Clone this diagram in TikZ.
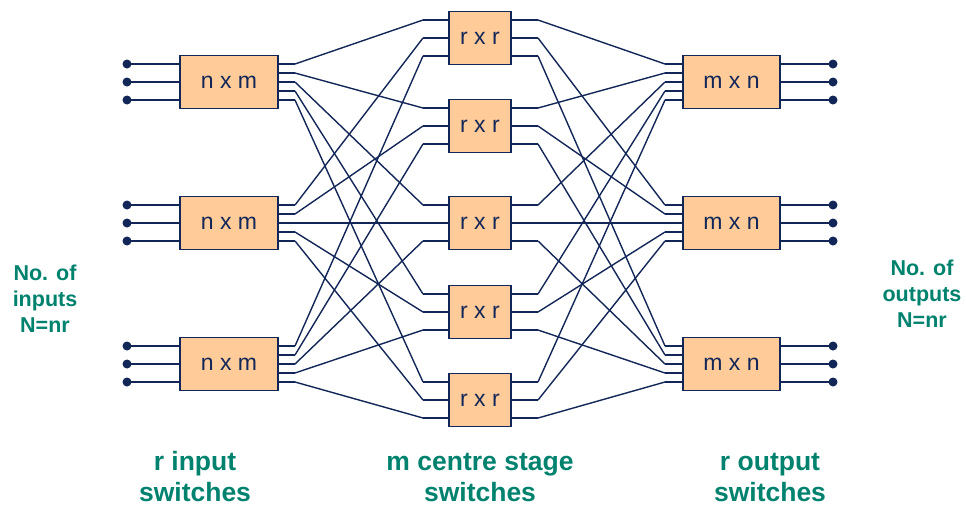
\documentclass[tikz,border=0pt]{standalone}
\usepackage{fontspec}
\setmainfont{Liberation Sans}
\definecolor{navy}{RGB}{18,38,88}
\definecolor{peach}{RGB}{255,204,153}
\definecolor{teal}{RGB}{0,130,110}
\begin{document}
\begin{tikzpicture}[x=1pt,y=-1pt,
  swbox/.style={draw=navy,fill=peach,line width=1.5pt,inner sep=0pt,
    minimum height=53pt,text=navy,font=\fontsize{23}{23}\selectfont},
  inbox/.style={swbox,minimum width=98pt},
  cbox/.style={swbox,minimum width=62pt},
  outbox/.style={swbox,minimum width=97pt},
  wire/.style={draw=navy,line width=1.4pt},
  ioline/.style={draw=navy,line width=2.2pt},
  stub/.style={draw=navy,line width=1.6pt},
  pin/.style={circle,fill=navy,inner sep=0pt,minimum size=9pt},
  lab/.style={text=teal,align=center,font=\bfseries\fontsize{26.5}{31}\selectfont},
  sidelab/.style={text=teal,align=center,font=\bfseries\fontsize{21.5}{26}\selectfont}]
\useasboundingbox (0,0) rectangle (966,507);
% switches
\foreach \i/\y in {1/82,2/223,3/364}{
  \node[inbox] (in\i) at (229,\y) {n x m};
  \node[outbox] (out\i) at (731.5,\y) {m x n};
}
\foreach \j/\y in {1/38,2/126,3/223,4/312,5/400}{
  \node[cbox] (c\j) at (480,\y) {r x r};
}
% external inputs and outputs
\foreach \i/\y in {1/82,2/223,3/364}{
  \foreach \k in {1,2,3}{
    \pgfmathsetmacro{\yy}{\y+(\k-2)*18}
    \node[pin] (pi\i\k) at (127,\yy) {};
    \node[pin] (po\i\k) at (833,\yy) {};
    \draw[ioline] (pi\i\k.center) -- (in\i.west |- pi\i\k);
    \draw[ioline] (out\i.east |- po\i\k) -- (po\i\k.center);
  }
  \foreach \j in {1,...,5}{
    \pgfmathsetmacro{\yy}{\y+(\j-3)*9}
    \coordinate (a\i\j) at (295,\yy);
    \coordinate (d\i\j) at (665,\yy);
    \draw[stub] (in\i.east |- a\i\j) -- (a\i\j);
    \draw[stub] (d\i\j) -- (out\i.west |- d\i\j);
  }
}
\foreach \j/\y in {1/38,2/126,3/223,4/312,5/400}{
  \foreach \i in {1,2,3}{
    \pgfmathsetmacro{\yy}{\y+(\i-2)*18}
    \coordinate (b\j\i) at (423,\yy);
    \coordinate (e\j\i) at (538,\yy);
    \draw[stub] (b\j\i) -- (c\j.west |- b\j\i);
    \draw[stub] (c\j.east |- e\j\i) -- (e\j\i);
  }
}
% interconnections
\foreach \i in {1,2,3}{
  \foreach \j in {1,...,5}{
    \draw[wire] (a\i\j) -- (b\j\i);
    \draw[wire] (e\j\i) -- (d\i\j);
  }
}
% labels
\node[sidelab] (ninp) at (45,299) {No. of\\inputs\\N=nr};
\node[sidelab] (noutp) at (922,294) {No. of\\outputs\\N=nr};
\node[lab] (lin) at (195,477) {r input\\switches};
\node[lab] (lcen) at (480,477) {m centre stage\\switches};
\node[lab] (lout) at (770,477) {r output\\switches};
\end{tikzpicture}
\end{document}
